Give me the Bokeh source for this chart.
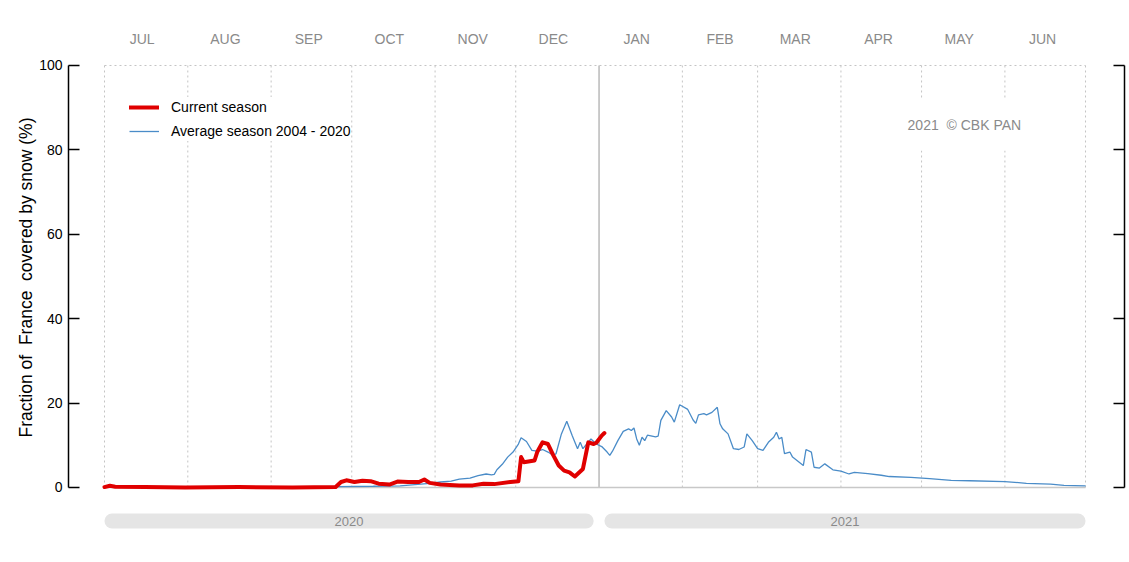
from bokeh.plotting import figure
from bokeh.models import Range1d, LinearAxis, FixedTicker, Legend, LegendItem, Label, Title
from bokeh.core.properties import value
from bokeh.embed import file_html
from bokeh.resources import INLINE

FONT = "Liberation Sans"

# ---- data (day index from 1 July 2020) ----
month_names = ["JUL", "AUG", "SEP", "OCT", "NOV", "DEC", "JAN", "FEB", "MAR", "APR", "MAY", "JUN"]
month_starts = [0, 31, 62, 92, 123, 153, 184, 215, 243, 274, 304, 335, 365]
year_labels = ["2020", "2021"]
year_left = [0, 186]
year_right = [182, 365]

current_days = [0, 2, 4, 15, 30, 50, 70, 86, 88, 90, 93, 96, 99, 102, 106, 109, 113, 117, 119, 121,
                125, 132, 137, 141, 145, 151, 154, 155, 156, 160, 161, 163, 165, 167, 169, 171, 173,
                175, 176, 178, 180, 182, 183, 185, 186]
current_vals = [0.1, 0.4, 0.2, 0.1, 0.0, 0.1, 0.0, 0.1, 1.3, 1.7, 1.3, 1.6, 1.5, 0.9, 0.7, 1.4, 1.3, 1.3, 1.9, 1.1,
                0.7, 0.5, 0.5, 0.9, 0.8, 1.3, 1.5, 7.2, 6.0, 6.4, 8.4, 10.7, 10.3, 7.6, 5.2, 4.0, 3.6,
                2.6, 3.2, 4.4, 10.7, 10.3, 10.6, 12.3, 12.9]

avg_days = [0, 20, 40, 60, 80, 87, 100, 110, 121, 125, 129, 132, 136, 139, 142, 144, 145, 146, 148, 150,
            152, 154, 155, 157, 159, 161, 163, 165, 167, 168, 170, 172, 174, 176, 177, 178, 181, 183, 185,
            187, 188, 189, 191, 193, 195, 196, 197, 198, 199, 200, 201, 202, 205, 206, 207, 209, 211, 212,
            214, 217, 219, 220, 221, 223, 224, 226, 228, 229, 230, 232, 234, 236, 238, 239, 241, 243, 245,
            247, 249, 250, 251, 252, 253, 255, 256, 260, 261, 263, 264, 266, 268, 271, 274, 277, 279, 284,
            289, 292, 300, 307, 315, 322, 335, 343, 352, 357, 365]
avg_vals = [0.1, 0.1, 0.1, 0.1, 0.15, 0.2, 0.3, 0.4, 1.0, 1.3, 1.5, 2.0, 2.2, 2.8, 3.2, 3.0, 3.1, 4.2, 5.5, 7.2,
            8.4, 10.3, 11.8, 10.9, 8.8, 8.6, 9.0, 8.4, 7.6, 8.0, 12.7, 15.7, 12.3, 9.2, 10.7, 9.2, 11.5, 10.3, 9.7,
            8.4, 7.6, 8.6, 11.1, 13.3, 13.9, 13.5, 14.1, 11.5, 10.0, 11.9, 11.1, 12.4, 12.0, 12.2, 15.9, 18.2, 16.7, 15.5,
            19.6, 18.5, 16.0, 15.2, 17.2, 17.5, 17.2, 17.8, 19.0, 15.1, 13.9, 12.7, 9.2, 9.0, 9.6, 12.7, 11.1, 9.2, 8.8,
            10.7, 11.9, 13.1, 11.5, 11.9, 8.0, 8.4, 7.2, 5.2, 9.0, 8.4, 4.8, 4.6, 5.6, 4.2, 3.9, 3.2, 3.6, 3.3,
            2.9, 2.6, 2.4, 2.1, 1.7, 1.6, 1.4, 1.0, 0.8, 0.5, 0.4]

# ---- figure ----
p = figure(width=1129, height=562, output_backend="svg", toolbar_location=None,
           x_range=Range1d(-13.39, 379.5), y_range=Range1d(-12.56, 100.47),
           x_axis_location=None, y_axis_location=None,
           min_border_left=68, min_border_right=5, min_border_top=63, min_border_bottom=22)
p.outline_line_color = None
p.grid.grid_line_color = None
p.background_fill_color = "white"
p.border_fill_color = "white"

yticks = [0, 20, 40, 60, 80, 100]
yax = LinearAxis(bounds=(0, 100), ticker=FixedTicker(ticks=yticks),
                 major_tick_in=11, major_tick_out=0, minor_tick_in=0, minor_tick_out=0,
                 axis_line_width=1.5, major_tick_line_width=1.5,
                 major_label_text_font=FONT, major_label_text_font_size="14px",
                 major_label_text_color="black", major_label_standoff=6)
p.add_layout(yax, "left")

# y axis title as a left-side title, placed so it is centred on the 0-100 span
p.add_layout(Title(text="Fraction of\u00a0 France\u00a0 covered by snow (%)", align="left", offset=103,
                   text_font=FONT, text_font_size="17.5px", text_font_style="normal",
                   text_color="black", standoff=2), "left")

rax = LinearAxis(bounds=(0, 100), ticker=FixedTicker(ticks=yticks),
                 major_tick_in=11, major_tick_out=0, minor_tick_in=0, minor_tick_out=0,
                 axis_line_width=1.5, major_tick_line_width=1.5,
                 major_label_overrides={t: "" for t in yticks}, major_label_standoff=0)
p.add_layout(rax, "right")

mid = [s + 14 for s in month_starts[:-1]]
tax = LinearAxis(ticker=FixedTicker(ticks=mid),
                 major_label_overrides={m: n for m, n in zip(mid, month_names)},
                 axis_line_color=None, major_tick_line_color=None, minor_tick_line_color=None,
                 major_label_standoff=11, major_label_text_font=FONT,
                 major_label_text_font_size="14px", major_label_text_color="#8a8a8a")
p.add_layout(tax, "above")

# grid lines at month boundaries
dotted = [m for m in month_starts if m != 184]
p.segment(x0=dotted, y0=[0] * len(dotted), x1=dotted, y1=[100] * len(dotted),
          line_color="#c4c4c4", line_dash="2 3", line_width=1)
p.segment(x0=[month_starts[0]], y0=[100], x1=[month_starts[-1]], y1=[100],
          line_color="#c4c4c4", line_dash="2 3", line_width=1)
p.segment(x0=[184], y0=[0], x1=[184], y1=[100], line_color="#a8a8a8", line_width=1.2)
p.segment(x0=[month_starts[0]], y0=[0], x1=[month_starts[-1]], y1=[0], line_color="#c8c8c8", line_width=1.5)

# year bars
p.quad(left=year_left, right=year_right, bottom=-9.72, top=-6.16,
       fill_color="#e5e5e5", line_color=None, border_radius=8)
p.text(x=[(a + b) / 2 for a, b in zip(year_left, year_right)], y=[-7.94] * 2, text=year_labels,
       text_align="center", text_baseline="middle", text_font=value(FONT),
       text_font_size="13px", text_color="#8a8a8a")

blue = p.line(avg_days, avg_vals, line_color="#4a8cc8", line_width=1.3)
red = p.line(current_days, current_vals, line_color="#e00000", line_width=4, line_join="round", line_cap="round")

legend = Legend(items=[LegendItem(label="Current season", renderers=[red]),
                       LegendItem(label="Average season 2004 - 2020", renderers=[blue])],
                location=(61, 399), glyph_width=30, glyph_height=20, label_height=20,
                spacing=4, padding=10, label_standoff=12, margin=0,
                label_text_font=FONT, label_text_font_size="14px", label_text_color="black",
                border_line_color=None, background_fill_color="white", background_fill_alpha=1)
p.add_layout(legend)

p.add_layout(Label(x=292.1, y=86, text="2021\u00a0 \u00a9 CBK PAN", text_font=FONT, text_font_size="14px",
                   text_color="#8a8a8a", text_baseline="middle",
                   background_fill_color="white", padding=18))

open("out.html", "w").write(file_html(p, INLINE))
